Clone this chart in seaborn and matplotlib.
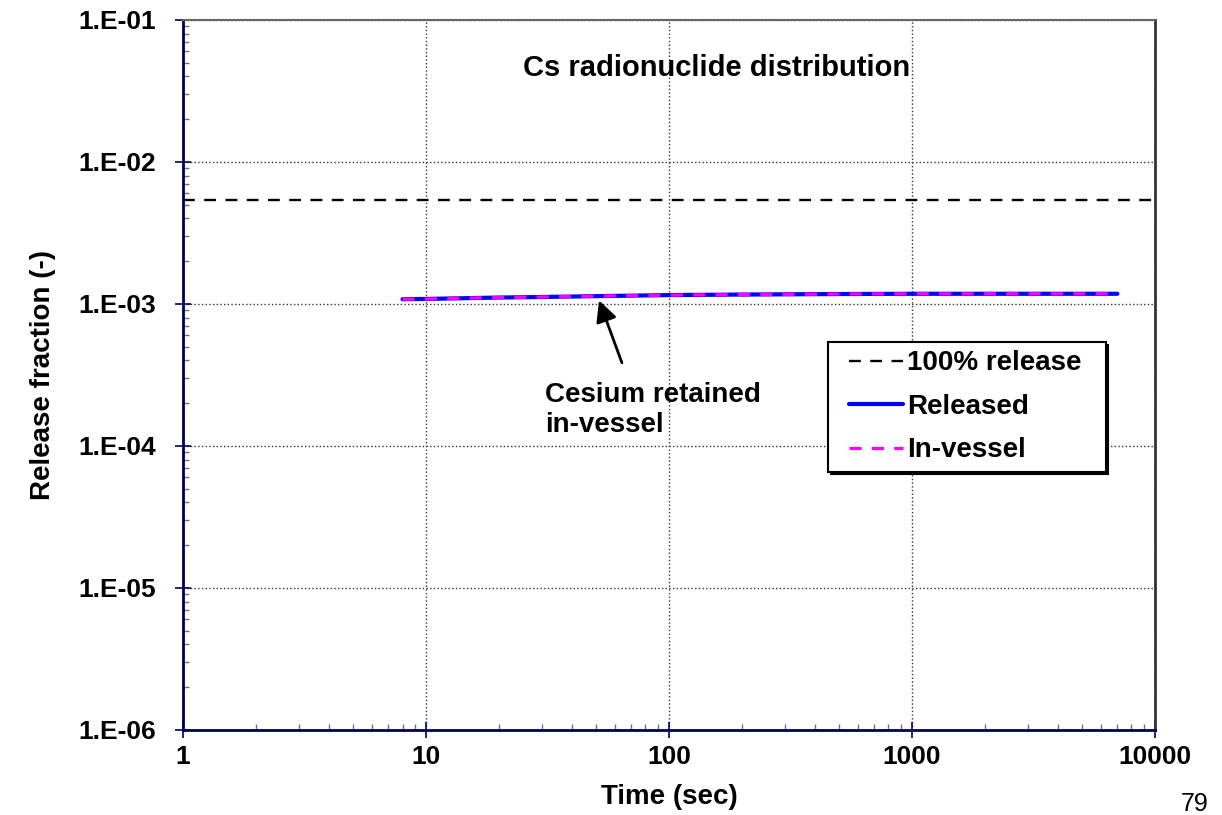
import numpy as np
import pandas as pd
import seaborn as sns
import matplotlib.pyplot as plt
from matplotlib.legend_handler import HandlerLine2D
from matplotlib.ticker import LogLocator, FuncFormatter, NullFormatter

sns.set_style("white")
plt.rcParams["font.family"] = ["Liberation Sans", "DejaVu Sans"]
plt.rcParams["font.weight"] = "bold"
plt.rcParams["text.color"] = "black"
plt.rcParams["axes.labelcolor"] = "black"
plt.rcParams["xtick.color"] = "black"
plt.rcParams["ytick.color"] = "black"

# data
time_s = [8, 10, 15, 20, 30, 50, 100, 200, 500, 1000, 2000, 5000, 7000]
released = [1.08e-3, 1.085e-3, 1.10e-3, 1.11e-3, 1.12e-3, 1.135e-3, 1.155e-3,
            1.165e-3, 1.175e-3, 1.18e-3, 1.18e-3, 1.18e-3, 1.18e-3]
in_vessel = released
full_release = 0.0054

df = pd.DataFrame({"time": time_s, "Released": released, "In-vessel": in_vessel})

fig = plt.figure(figsize=(12.22, 8.15), dpi=100)
ax = fig.add_axes([0.1498, 0.1043, 0.7954, 0.8712])

ax.set_xscale("log")
ax.set_yscale("log")
ax.set_xlim(1, 10000)
ax.set_ylim(1e-6, 1e-1)

ax.axhline(full_release, color="black", ls=(0, (5, 4)), lw=1.7,
           label="100% release  ")
sns.lineplot(data=df, x="time", y="Released", color="#0000ff", lw=3,
             label="Released", ax=ax)
sns.lineplot(data=df, x="time", y="In-vessel", color="#ff00ff", lw=2.3,
             label="In-vessel", ax=ax)
ax.lines[-1].set_dashes([3.8, 3.2])

ax.grid(True, which="major", ls=":", color="#333333", lw=1)
ax.xaxis.set_major_locator(LogLocator(base=10, numticks=10))
ax.xaxis.set_minor_locator(LogLocator(base=10, subs=np.arange(2, 10), numticks=10))
ax.yaxis.set_major_locator(LogLocator(base=10, numticks=10))
ax.yaxis.set_minor_locator(LogLocator(base=10, subs=np.arange(2, 10), numticks=10))
ax.xaxis.set_major_formatter(FuncFormatter(lambda v, p: f"{v:.0f}"))
ax.yaxis.set_major_formatter(FuncFormatter(lambda v, p: f"1.E{int(round(np.log10(v))):+03d}"))
ax.xaxis.set_minor_formatter(NullFormatter())
ax.yaxis.set_minor_formatter(NullFormatter())

ax.tick_params(bottom=True, left=True, top=False, right=False, which="both")
ax.tick_params(which="major", direction="inout", length=11.5, width=1.2,
               color="#000060", labelsize=19, labelcolor="black")
ax.tick_params(axis="x", which="major", pad=5)
ax.tick_params(axis="y", which="major", pad=14)
ax.tick_params(which="minor", direction="in", length=4.3, width=1, color="#6a6aa8")
for t in ax.get_xticklabels() + ax.get_yticklabels():
    t.set_fontweight("bold")

for s in ["left", "bottom"]:
    ax.spines[s].set_color("#000050")
    ax.spines[s].set_linewidth(2)
ax.spines["top"].set_color("#666666")
ax.spines["top"].set_linewidth(1.5)
ax.spines["right"].set_color("#333333")
ax.spines["right"].set_linewidth(2)

ax.set_xlabel("Time (sec)", fontsize=20, fontweight="bold", labelpad=11)
ax.set_ylabel("Release fraction (-)", fontsize=20, fontweight="bold", labelpad=16)

ax.text(0.549, 0.932, "Cs radionuclide distribution", transform=ax.transAxes,
        ha="center", va="center", fontsize=21, fontweight="bold")

ax.annotate("", xy=(51.5, 1.06e-3), xytext=(64, 3.85e-4),
            arrowprops=dict(arrowstyle="-|>", color="black", lw=2,
                            mutation_scale=32, shrinkA=0, shrinkB=0))
ax.text(30.9, 2.83e-4, "Cesium retained\nin-vessel", fontsize=20,
        fontweight="bold", ha="left", va="top", linespacing=1.2)

handles, labels = ax.get_legend_handles_labels()
leg = ax.legend(handles, labels, loc="upper left",
                bbox_to_anchor=(828 / 1222, 1 - 342 / 815),
                bbox_transform=fig.transFigure, fontsize=20, frameon=True,
                fancybox=False, shadow={"color": "black", "alpha": 1},
                handlelength=2.4, handletextpad=0.15, labelspacing=0.63,
                borderpad=0.3, borderaxespad=0,
                handler_map={h: HandlerLine2D(xpad=0.45) for h in handles})
leg.get_frame().set_edgecolor("black")
leg.get_frame().set_linewidth(1.5)
for t in leg.get_texts():
    t.set_fontweight("bold")

fig.text(1195 / 1222, 1 - 804 / 815, "79", ha="center", va="center",
         fontsize=18, fontweight="normal")

fig.savefig("out.png", dpi=100)
